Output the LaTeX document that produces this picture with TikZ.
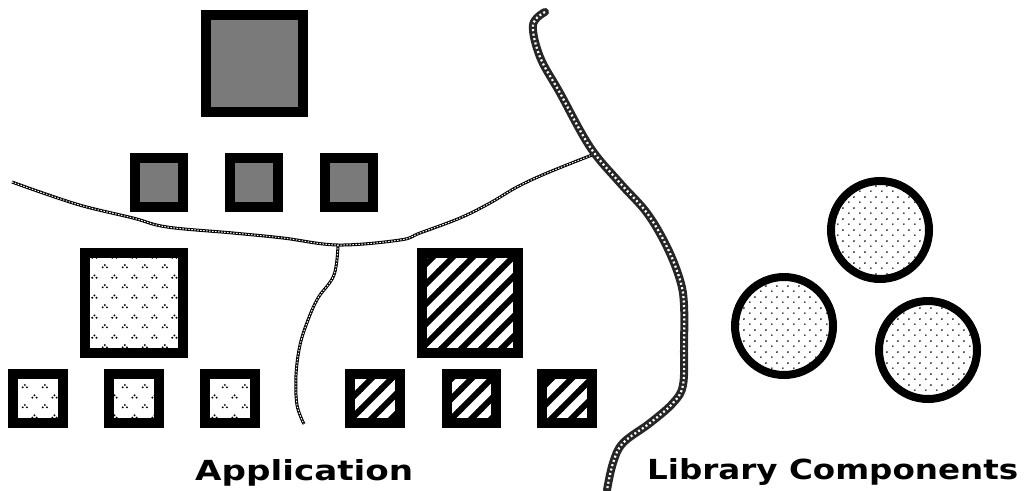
\documentclass[tikz,border=0pt]{standalone}
\usepackage{fontspec}
\setmainfont{DejaVu Sans}
\usetikzlibrary{patterns}
\pgfdeclarepatternformonly{carets}{\pgfqpoint{0pt}{0pt}}{\pgfqpoint{20pt}{20pt}}{\pgfqpoint{20pt}{20pt}}{%
  \foreach \cx/\cy in {5/5,15/15}{%
    \pgfpathcircle{\pgfpoint{\cx pt - 2.2pt}{\cy pt - 1.2pt}}{1.1pt}%
    \pgfpathcircle{\pgfpoint{\cx pt}{\cy pt + 1.2pt}}{1.1pt}%
    \pgfpathcircle{\pgfpoint{\cx pt + 2.2pt}{\cy pt - 1.2pt}}{1.1pt}%
  }%
  \pgfusepath{fill}}
\pgfdeclarepatternformonly{stipple}{\pgfqpoint{0pt}{0pt}}{\pgfqpoint{11pt}{11pt}}{\pgfqpoint{11pt}{11pt}}{%
  \pgfpathcircle{\pgfqpoint{2pt}{2pt}}{0.95pt}%
  \pgfpathcircle{\pgfqpoint{7.5pt}{7.5pt}}{0.95pt}%
  \pgfusepath{fill}}
\pgfdeclarepatternformonly{widehatch}{\pgfqpoint{-1pt}{-1pt}}{\pgfqpoint{21pt}{21pt}}{\pgfqpoint{20pt}{20pt}}{%
  \pgfsetlinewidth{6pt}%
  \pgfpathmoveto{\pgfqpoint{-2pt}{-2pt}}\pgfpathlineto{\pgfqpoint{22pt}{22pt}}%
  \pgfpathmoveto{\pgfqpoint{-2pt}{18pt}}\pgfpathlineto{\pgfqpoint{2pt}{22pt}}%
  \pgfpathmoveto{\pgfqpoint{18pt}{-2pt}}\pgfpathlineto{\pgfqpoint{22pt}{2pt}}%
  \pgfusepath{stroke}}
\tikzset{
  graybox/.style={draw=black, line width=10pt, fill=black!52},
  caretbox/.style={draw=black, line width=10pt, pattern=carets},
  hatchbox/.style={draw=black, line width=10pt, pattern=widehatch},
  comp/.style={draw=black, line width=8pt, pattern=stipple},
  borderdark/.style={line width=3pt, black, line join=round},
  borderlight/.style={line width=1pt, white, dash pattern=on 1.5pt off 1.5pt},
  riverdark/.style={line width=8pt, black!85, line cap=round, line join=round},
  riverlight/.style={line width=2.2pt, white, dash pattern=on 2pt off 2.5pt},
  label/.style={inner sep=0pt, anchor=base west, font=\bfseries}
}
\begin{document}
\begin{tikzpicture}[x=1pt, y=-1pt]
\useasboundingbox (0,0) rectangle (1024,490);
% river
\coordinate (rtop) at (545,12);
\coordinate (rbot) at (607,490);
\foreach \st in {riverdark,riverlight}{
  \draw[\st] plot[smooth, tension=0.6] coordinates {(rtop) (533,25) (540,57) (560,93) (590,147) (620,183) (647,213) (667,247) (680,280) (684,305) (684,347) (683,385) (673,403) (650,423) (623,443) (613,463) (rbot)};
}
% thin borders
\coordinate (wl) at (12,182);
\coordinate (jn) at (338,245);
\coordinate (jr) at (592,155);
\coordinate (bend) at (304,424);
\foreach \st in {borderdark,borderlight}{
  \draw[\st] plot[smooth, tension=0.6] coordinates {(wl) (43,193) (83,206) (133,218) (167,227) (233,233) (283,238) (jn) (400,240) (420,233) (460,218) (490,203) (517,187) (547,173) (jr)};
  \draw[\st] plot[smooth, tension=0.6] coordinates {(jn) (334,275) (318,298) (308,320) (300,345) (296,375) (297,405) (bend)};
}
% gray hierarchy
\draw[graybox] (206,15) rectangle (303,112);
\draw[graybox] (135,158) rectangle (183,207);
\draw[graybox] (230,158) rectangle (278,207);
\draw[graybox] (325,158) rectangle (373,207);
% caret hierarchy
\draw[caretbox] (85,253) rectangle (183,353);
\draw[caretbox] (13,374) rectangle (63,423);
\draw[caretbox] (109,374) rectangle (159,423);
\draw[caretbox] (205,374) rectangle (255,423);
% hatched hierarchy
\draw[hatchbox] (422,253) rectangle (518,353);
\draw[hatchbox] (350,374) rectangle (400,423);
\draw[hatchbox] (447,374) rectangle (496,423);
\draw[hatchbox] (542,374) rectangle (592,423);
% library components
\draw[comp] (880,230) circle[radius=49];
\draw[comp] (784,326) circle[radius=49];
\draw[comp] (928,350) circle[radius=49];
% labels
\node[label] (app) at (195,480) {\resizebox{218pt}{21pt}{Application}};
\node[label] (lib) at (647,479) {\resizebox{371pt}{21pt}{Library Components}};
\end{tikzpicture}
\end{document}
